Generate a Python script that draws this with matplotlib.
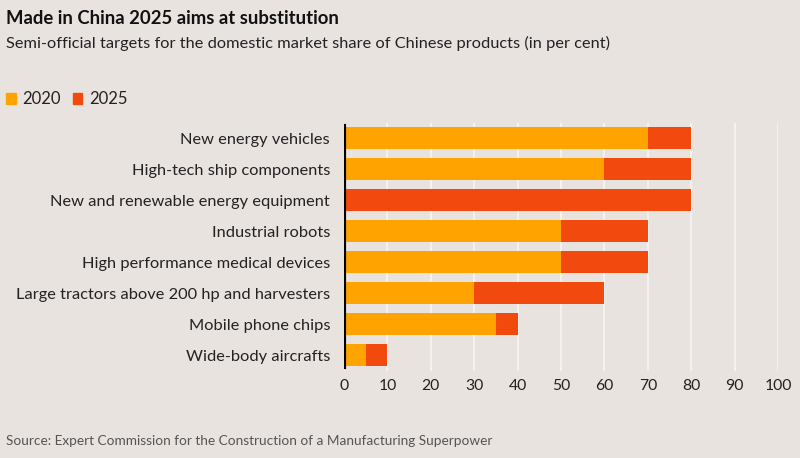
import numpy as np
import matplotlib.pyplot as plt

plt.rcParams['font.family'] = ['Lato', 'DejaVu Sans']

categories = ['New energy vehicles', 'High-tech ship components',
              'New and renewable energy equipment', 'Industrial robots',
              'High performance medical devices',
              'Large tractors above 200 hp and harvesters',
              'Mobile phone chips', 'Wide-body aircrafts']
share_2020 = [70, 60, 0, 50, 50, 30, 35, 5]
share_2025 = [80, 80, 80, 70, 70, 60, 40, 10]

c2020 = '#ffa300'
c2025 = '#f24a0e'
bg = '#e9e3e0'

fig = plt.figure(figsize=(8, 4.58), dpi=100)
fig.set_facecolor(bg)
ax = fig.add_axes([0.43, 0.191, 0.5425, 0.5415])
ax.set_facecolor(bg)

y = np.arange(len(categories))
extra = np.array(share_2025) - np.array(share_2020)
ax.barh(y, share_2020, height=0.71, color=c2020, zorder=2)
ax.barh(y, extra, left=share_2020, height=0.71, color=c2025, zorder=2)

ax.set_xlim(0, 100)
ax.set_ylim(len(categories) - 0.5, -0.5)
ax.set_xticks(range(0, 101, 10))
ax.set_yticks(y)
ax.set_yticklabels(categories, fontsize=11.8, color='#222222')
ax.tick_params(axis='x', labelsize=11.3, colors='#222222', length=0, pad=6)
ax.tick_params(axis='y', length=0, pad=10)
ax.grid(axis='x', color='white', linewidth=1.2, alpha=0.6, zorder=3)
for s in ax.spines.values():
    s.set_visible(False)
ax.axvline(0, ymin=0.015, ymax=0.985, color='black', linewidth=3, zorder=4)

fig.text(0.008, 0.96, 'Made in China 2025 aims at substitution',
         fontsize=13.3, fontweight='bold', color='#111111', va='center')
fig.text(0.008, 0.905, 'Semi-official targets for the domestic market share of Chinese products (in per cent)',
         fontsize=11.8, color='#222222', va='center')

# legend
fig.patches.append(plt.Rectangle((0.008, 0.773), 0.012, 0.023, color=c2020,
                                 transform=fig.transFigure, figure=fig))
fig.text(0.028, 0.783, '2020', fontsize=12, color='#222222', va='center')
fig.patches.append(plt.Rectangle((0.091, 0.773), 0.012, 0.023, color=c2025,
                                 transform=fig.transFigure, figure=fig))
fig.text(0.111, 0.783, '2025', fontsize=12, color='#222222', va='center')

fig.text(0.008, 0.037, 'Source: Expert Commission for the Construction of a Manufacturing Superpower',
         fontsize=9.8, color='#555555', va='center')

plt.savefig('out.png', facecolor=bg)
